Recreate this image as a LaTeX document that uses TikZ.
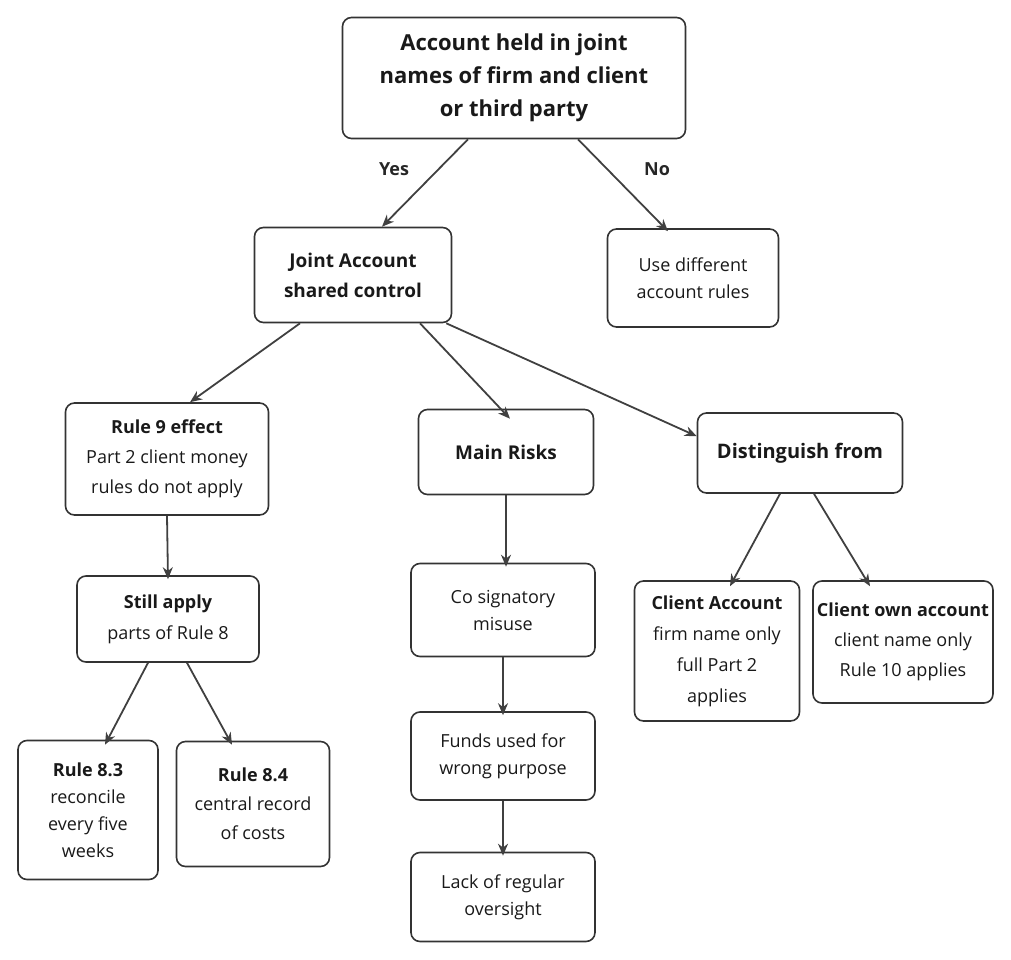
\documentclass[tikz,border=0pt]{standalone}
\usepackage{fontspec}
\setmainfont{Open Sans}
\usetikzlibrary{calc,arrows.meta}
\begin{document}
\begin{tikzpicture}[x=1pt,y=-1pt,
 box/.style={draw=black!80,line width=1.6pt,rounded corners=9pt,align=center,inner sep=0pt,font=\fontsize{18}{27}\selectfont,text=black!90},
 arr/.style={draw=black!75,line width=1.8pt,-{Stealth[length=12pt,width=10pt]}},
 lab/.style={font=\fontsize{18}{20}\selectfont\bfseries\color{black!85}}]
\useasboundingbox (0,0) rectangle (1011,960);
\node[box,minimum width=343,minimum height=121,font=\fontsize{22}{33}\selectfont\bfseries] (top) at (514,78) {Account held in joint\\names of firm and client\\or third party};
\node[box,minimum width=197,minimum height=95,font=\fontsize{19}{30}\selectfont] (joint) at (353,275) {\textbf{Joint Account}\\\textbf{shared control}};
\node[box,minimum width=171,minimum height=98] (diff) at (693,278) {Use different\\account rules};
\node[box,minimum width=203,minimum height=112,font=\fontsize{18}{30}\selectfont] (r9) at (167,459) {\textbf{Rule 9 effect}\\Part 2 client money\\rules do not apply};
\node[box,minimum width=175,minimum height=85,font=\fontsize{19}{27}\selectfont] (risk) at (506,452) {\textbf{Main Risks}};
\node[box,minimum width=205,minimum height=80] (dist) at (800,453) {\fontsize{20}{24}\selectfont\textbf{Distinguish from}};
\node[box,minimum width=182,minimum height=86,font=\fontsize{18}{31}\selectfont] (still) at (168,619) {\textbf{Still apply}\\parts of Rule 8};
\node[box,minimum width=184,minimum height=93] (co) at (503,610) {Co signatory\\misuse};
\node[box,minimum width=184,minimum height=88] (funds) at (503,756) {Funds used for\\wrong purpose};
\node[box,minimum width=184,minimum height=89] (lack) at (503,897) {Lack of regular\\oversight};
\node[box,minimum width=165,minimum height=140,font=\fontsize{18}{31}\selectfont] (ca) at (717,651) {\textbf{Client Account}\\firm name only\\full Part 2\\applies};
\node[box,minimum width=180,minimum height=122,font=\fontsize{18}{30}\selectfont] (own) at (903,642) {\textbf{Client own account}\\client name only\\Rule 10 applies};
\node[box,minimum width=140,minimum height=139] (r83) at (88,810) {\textbf{Rule 8.3}\\reconcile\\every five\\weeks};
\node[box,minimum width=153,minimum height=125,font=\fontsize{18}{29}\selectfont] (r84) at (253,804) {\textbf{Rule 8.4}\\central record\\of costs};
\draw[arr] ([xshift=-46pt]top.south) -- ([xshift=29pt]joint.north);
\draw[arr] ([xshift=64pt]top.south) -- ([xshift=-25pt,yshift=-3pt]diff.north);
\node[lab] (yes) at (394,169) {Yes};
\node[lab] (no) at (657,169) {No};
\draw[arr] ([xshift=-53pt]joint.south) -- ([xshift=23pt]r9.north);
\draw[arr] ([xshift=67pt]joint.south) -- ([xshift=4pt,yshift=-10pt]risk.north);
\draw[arr] ([xshift=-6pt]joint.south east) -- ([yshift=-24pt]dist.north west);
\draw[arr] (r9.south) -- ([yshift=-4pt]still.north);
\draw[arr] ([xshift=-20pt]still.south) -- ([xshift=17pt,yshift=-5pt]r83.north);
\draw[arr] ([xshift=19pt]still.south) -- ([xshift=-21pt,yshift=-4pt]r84.north);
\draw[arr] (risk.south) -- ([xshift=3pt,yshift=-4pt]co.north);
\draw[arr] (co.south) -- ([yshift=-4pt]funds.north);
\draw[arr] (funds.south) -- ([yshift=-4pt]lack.north);
\draw[arr] ([xshift=-20pt]dist.south) -- ([xshift=13pt,yshift=-6pt]ca.north);
\draw[arr] ([xshift=14pt]dist.south) -- ([xshift=-33pt,yshift=-6pt]own.north);
\end{tikzpicture}
\end{document}
